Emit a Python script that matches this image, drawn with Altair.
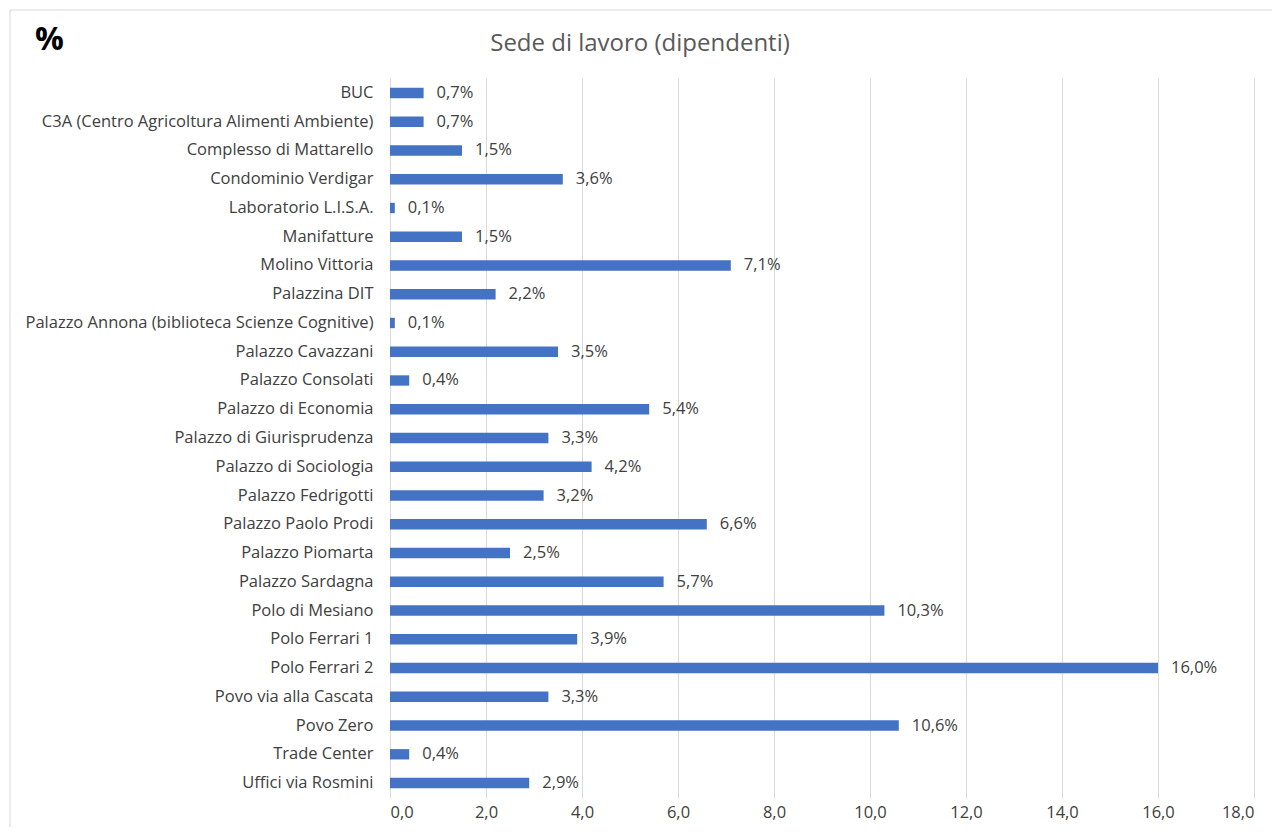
import altair as alt
import pandas as pd

categories = [
    "BUC",
    "C3A (Centro Agricoltura Alimenti Ambiente)",
    "Complesso di Mattarello",
    "Condominio Verdigar",
    "Laboratorio L.I.S.A.",
    "Manifatture",
    "Molino Vittoria",
    "Palazzina DIT",
    "Palazzo Annona (biblioteca Scienze Cognitive)",
    "Palazzo Cavazzani",
    "Palazzo Consolati",
    "Palazzo di Economia",
    "Palazzo di Giurisprudenza",
    "Palazzo di Sociologia",
    "Palazzo Fedrigotti",
    "Palazzo Paolo Prodi",
    "Palazzo Piomarta",
    "Palazzo Sardagna",
    "Polo di Mesiano",
    "Polo Ferrari 1",
    "Polo Ferrari 2",
    "Povo via alla Cascata",
    "Povo Zero",
    "Trade Center",
    "Uffici via Rosmini",
]
values = [0.7, 0.7, 1.5, 3.6, 0.1, 1.5, 7.1, 2.2, 0.1, 3.5, 0.4, 5.4, 3.3, 4.2,
          3.2, 6.6, 2.5, 5.7, 10.3, 3.9, 16.0, 3.3, 10.6, 0.4, 2.9]
x_ticks = [0, 2, 4, 6, 8, 10, 12, 14, 16, 18]
title_text = ["Sede di lavoro (dipendenti)"]

df = pd.DataFrame({"sede": categories, "valore": values})
df["label"] = [f"{v:.1f}%".replace(".", ",") for v in values]
title_df = pd.DataFrame({"t": title_text})

FONT = "Open Sans"
FS = 16.5

base = alt.Chart(df).encode(
    y=alt.Y(
        "sede:N",
        sort=categories,
        scale=alt.Scale(paddingInner=0.64, paddingOuter=0.34),
        axis=alt.Axis(
            title="%",
            titleAngle=0,
            titleX=-341,
            titleY=-39,
            titleAlign="center",
            titleBaseline="middle",
            titleFontSize=32,
            titleFontWeight="bold",
            titleColor="#000000",
            titleFont=FONT,
            labelFont=FONT,
            labelFontSize=FS,
            labelColor="#404040",
            labelPadding=17,
            labelLimit=0,
            ticks=False,
            domain=False,
            grid=False,
        ),
    )
)

bars = base.mark_bar(color="#4472C4").encode(
    x=alt.X(
        "valore:Q",
        scale=alt.Scale(domain=[0, 18], nice=False),
        axis=alt.Axis(
            title=None,
            values=x_ticks,
            labelExpr="replace(format(datum.value, '.1f'), '.', ',')",
            labelFont=FONT,
            labelFontSize=FS,
            labelColor="#404040",
            labelPadding=6,
            ticks=False,
            domain=False,
            grid=True,
            gridColor="#D9D9D9",
            gridWidth=1,
        ),
    )
)

text = base.mark_text(
    align="left", baseline="middle", dx=13, font=FONT, fontSize=FS, color="#404040"
).encode(x="valore:Q", text="label:N")

title = alt.Chart(title_df).mark_text(
    align="center", baseline="middle", font=FONT, fontSize=24, color="#595959"
).encode(x=alt.value(250), y=alt.value(-34), text="t:N")

frame = alt.Chart(title_df).mark_rect(
    fill=None, stroke="#D9D9D9", strokeWidth=1
).encode(
    x=alt.value(-380), x2=alt.value(940), y=alt.value(-68), y2=alt.value(760)
)

chart = (
    alt.layer(frame, bars, text, title)
    .properties(
        width=864,
        height=720,
        autosize=alt.AutoSizeParams(type="none"),
        padding={"left": 382, "top": 70, "right": 18, "bottom": 29},
    )
    .configure_view(stroke=None)
)

chart.save("out.html", embed_options={"renderer": "svg", "actions": False})
